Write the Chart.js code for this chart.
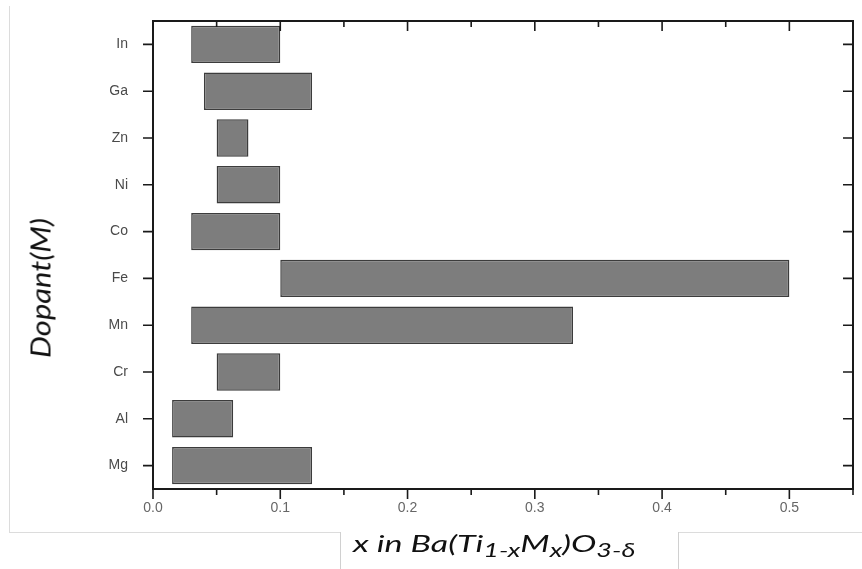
<!DOCTYPE html>
<html>
<head>
<meta charset="utf-8">
<script src="https://cdn.jsdelivr.net/npm/chart.js@4"></script>
<style>
  html, body { margin: 0; padding: 0; background: #fff; }
  #wrap { position: relative; width: 862px; height: 569px; overflow: hidden; }
  #frame { position: absolute; left: 9px; top: 6px; width: 860px; height: 526px;
           border-left: 1px solid #dcdcdc; border-bottom: 1px solid #dcdcdc; }
  #xbox { position: absolute; left: 340px; top: 532px; width: 337px; height: 40px;
          background: #fff; border-left: 1px solid #d0d0d0; border-right: 1px solid #d0d0d0; }
  #xtitle { position: absolute; left: 353px; top: 528px; font-family: Lato, "Open Sans", sans-serif;
            font-style: italic; font-size: 24px; color: #111; white-space: nowrap;
            transform-origin: 0 50%; }
  #xtitle sub { font-size: 19px; vertical-align: -5px; line-height: 0; }
  #ytitle { position: absolute; left: 40px; top: 288px; font-family: Lato, "Open Sans", sans-serif;
            font-style: italic; font-size: 27px; color: #111; white-space: nowrap; }
  canvas { position: absolute; left: 0; top: 0; }
</style>
</head>
<body>
<div id="wrap">
  <div id="frame"></div>
  <canvas id="chart" width="862" height="569"></canvas>
  <div id="xbox"></div>
  <div id="xtitle">x in Ba(Ti<sub>1-x</sub>M<sub>x</sub>)O<sub>3-δ</sub></div>
  <div id="ytitle">Dopant(M)</div>
</div>
<script>
// dopants, top to bottom, and the range of x where each one is soluble
var dopants = ['In', 'Ga', 'Zn', 'Ni', 'Co', 'Fe', 'Mn', 'Cr', 'Al', 'Mg'];
var xStart  = [0.03, 0.04, 0.05, 0.05, 0.03, 0.10, 0.03, 0.05, 0.015, 0.015];
var xEnd    = [0.10, 0.125, 0.075, 0.10, 0.10, 0.50, 0.33, 0.10, 0.063, 0.125];
var xTicks  = [0.0, 0.05, 0.1, 0.15, 0.2, 0.25, 0.3, 0.35, 0.4, 0.45, 0.5, 0.55];

var ranges = [];
for (var i = 0; i < dopants.length; i++) {
    ranges.push([xStart[i], xEnd[i]]);
}

// stretch the axis titles to the length they have in the picture
var xt = document.getElementById('xtitle');
xt.style.transform = 'scaleX(' + (282 / xt.offsetWidth) + ')';
var yt = document.getElementById('ytitle');
var ys0 = 140 / yt.offsetWidth;
yt.style.transform = 'translate(-50%, -50%) rotate(-90deg) scaleX(' + ys0 + ')';

// frame plus tick marks (in on top/right, out on bottom/left)
var frameTicks = {
    id: 'frameTicks',
    afterDraw: function (chart) {
        var ctx = chart.ctx;
        var a = chart.chartArea;
        var xs = chart.scales.x, ys = chart.scales.y;
        ctx.save();
        ctx.strokeStyle = '#1a1a1a';
        ctx.lineWidth = 2;
        ctx.strokeRect(a.left, a.top, a.right - a.left, a.bottom - a.top);
        ctx.lineWidth = 1.6;
        ctx.beginPath();
        xTicks.forEach(function (v) {
            var px = xs.getPixelForValue(v);
            var major = Math.abs(v * 10 - Math.round(v * 10)) < 1e-6;
            var len = major ? 10 : 6;
            ctx.moveTo(px, a.bottom); ctx.lineTo(px, a.bottom + len);
            ctx.moveTo(px, a.top); ctx.lineTo(px, a.top + len);
        });
        dopants.forEach(function (d, k) {
            var py = ys.getPixelForValue(k);
            ctx.moveTo(a.left, py); ctx.lineTo(a.left - 10, py);
            ctx.moveTo(a.right, py); ctx.lineTo(a.right - 10, py);
        });
        ctx.stroke();
        ctx.restore();
    }
};

var ctx = document.getElementById('chart');
var chart = new Chart(ctx, {
    type: 'bar',
    data: {
        labels: dopants,
        datasets: [{
            data: ranges,
            backgroundColor: '#7d7d7d',
            borderColor: '#3c3c3c',
            borderWidth: 1.5,
            borderSkipped: false,
            barPercentage: 0.8,
            categoryPercentage: 1.0
        }]
    },
    options: {
        indexAxis: 'y',
        responsive: false,
        animation: false,
        layout: { padding: { top: 21, right: 9, bottom: 0, left: 0 } },
        plugins: { legend: { display: false }, tooltip: { enabled: false } },
        scales: {
            x: {
                type: 'linear',
                min: 0,
                max: 0.55,
                grid: { display: false, drawTicks: false },
                border: { display: false },
                afterBuildTicks: function (scale) {
                    scale.ticks = xTicks.map(function (v) { return { value: v }; });
                },
                ticks: {
                    padding: 11,
                    color: '#666',
                    font: { family: 'Liberation Sans', size: 14 },
                    callback: function (v) {
                        var t = Math.round(v * 100);
                        return t % 10 === 0 ? (t / 100).toFixed(1) : '';
                    }
                },
                afterFit: function (scale) {
                    scale.height = 80;
                    scale.paddingLeft = 0;
                    scale.paddingRight = 0;
                }
            },
            y: {
                grid: { display: false, drawTicks: false },
                border: { display: false },
                ticks: {
                    padding: 25,
                    color: '#4a4a4a',
                    font: { family: 'Liberation Sans', size: 14 }
                },
                afterFit: function (scale) {
                    scale.width = 153;
                    scale.paddingTop = 0;
                    scale.paddingBottom = 0;
                }
            }
        }
    },
    plugins: [frameTicks]
});
</script>
</body>
</html>
